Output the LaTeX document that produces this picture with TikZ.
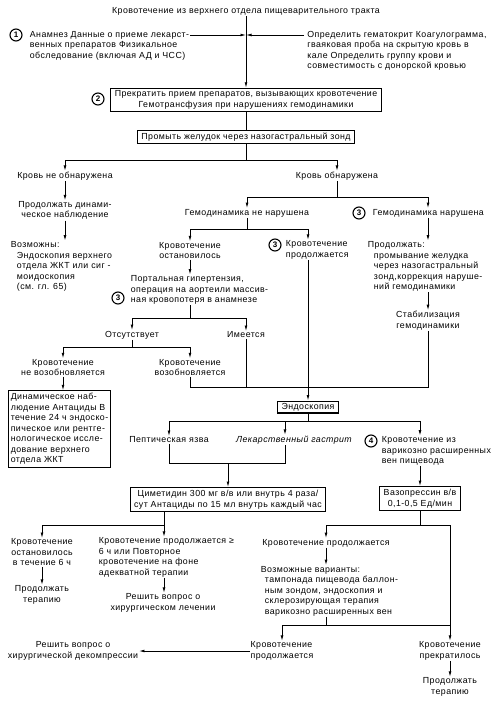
\documentclass[tikz,border=0pt]{standalone}
\usepackage{fontspec}
\setmainfont[LetterSpace=5]{Liberation Sans}
\usetikzlibrary{arrows.meta}
\tikzset{
  arr/.style={-{Latex[length=5.5pt,width=2.8pt]}},
  frame/.style={draw,line width=1.1pt,inner xsep=4pt,inner ysep=2.5pt},
  num/.style={circle,draw,line width=1.1pt,inner sep=0pt,minimum size=12pt,font=\fontsize{8}{8}\selectfont\bfseries},
  lft/.style={align=left,anchor=west},
}
\begin{document}
\begin{tikzpicture}[x=1pt,y=-1pt,line width=0.8pt,font=\fontsize{8.8}{10.5}\selectfont,every node/.append style={align=center,inner sep=0.5pt}]
\useasboundingbox (0,0) rectangle (493,701);
\node (title) at (246,11) {Кровотечение из верхнего отдела пищеварительного тракта};
\node[num] (c1) at (16,35) {1};
\node[lft] (anam) at (29,45.5) {Анамнез Данные о приеме лекарст-\\венных препаратов Физикальное\\обследование (включая АД и ЧСС)};
\node[lft,inner xsep=3pt] (opr) at (304,51) {Определить гематокрит Коагулограмма,\\гваяковая проба на скрытую кровь в\\кале Определить группу крови и\\совместимость с донорской кровью};
\node[num] (c2) at (98,99) {2};
\node[frame] (prekr) at (246,100) {Прекратить прием препаратов, вызывающих кровотечение\\Гемотрансфузия при нарушениях гемодинамики};
\node[frame] (promyt) at (246,137) {Промыть желудок через назогастральный зонд};
\node (krnet) at (65,176) {Кровь не обнаружена};
\node (krda) at (337,176) {Кровь обнаружена};
\node (prodol) at (65,210.5) {Продолжать динами-\\ческое наблюдение};
\node[lft] (vozm) at (10,266.5) {Возможны:\\\hspace*{6pt}Эндоскопия верхнего\\\hspace*{6pt}отдела ЖКТ или сиг -\\\hspace*{6pt}моидоскопия\\\hspace*{6pt}(см. гл. 65)};
\node (gemnn) at (247,213) {Гемодинамика не нарушена};
\node[num] (c3a) at (359,213) {3};
\node[lft] (gemn) at (372,213) {Гемодинамика нарушена};
\node (ostan) at (190,250.5) {Кровотечение\\остановилось};
\node[num] (c3b) at (275,245) {3};
\node[lft] (prodl) at (285,250) {Кровотечение\\продолжается};
\node[lft] (prod2) at (367,266.5) {Продолжать:\\\hspace*{6pt}промывание желудка\\\hspace*{6pt}через назогастральный\\\hspace*{6pt}зонд,коррекция наруше-\\\hspace*{6pt}ний гемодинамики};
\node[num] (c3c) at (118,298) {3};
\node[lft] (por) at (130,290) {Портальная гипертензия,\\операция на аортеили массив-\\ная кровопотеря в анамнезе};
\node (stab) at (428,320.5) {Стабилизация\\гемодинамики};
\node (otsut) at (132,335) {Отсутствует};
\node (imeet) at (246,335) {Имеется};
\node (nevoz) at (63,367.5) {Кровотечение\\не возобновляется};
\node (vozob) at (190,367.5) {Кровотечение\\возобновляется};
\node[frame,align=left,inner xsep=2pt] (dyn) at (59.5,429) {Динамическое наб-\\людение Антациды В\\течение 24 ч эндоско-\\пическое или рентге-\\нологическое иссле-\\дование верхнего\\отдела ЖКТ};
\node[frame,inner ysep=2pt] (endo) at (308,407) {Эндоскопия};
\node (pept) at (169,440) {Пептическая язва};
\node (lek) at (294,440) {\itshape Лекарственный гастрит};
\node[num] (c4) at (371,441) {4};
\node[lft] (varic) at (381,451) {Кровотечение из\\варикозно расширенных\\вен пищевода};
\node[frame] (cim) at (228,499.5) {Циметидин 300 мг в/в или внутрь 4 раза/\\сут Антациды по 15 мл внутрь каждый час};
\node[frame] (vazo) at (420,498.5) {Вазопрессин в/в\\0,1-0,5 Ед/мин};
\node (ost6) at (42,552.5) {Кровотечение\\остановилось\\в течение 6 ч};
\node[lft] (prod6) at (98,557.5) {Кровотечение продолжается ≥\\6 ч или Повторное\\кровотечение на фоне\\адекватной терапии};
\node (kp2) at (326,543) {Кровотечение продолжается};
\node[lft] (vv) at (260,591) {Возможные варианты:\\\hspace*{4pt}тампонада пищевода баллон-\\\hspace*{4pt}ным зондом, эндоскопия и\\\hspace*{4pt}склерозирующая терапия\\\hspace*{4pt}варикозно расширенных вен};
\node (ter1) at (42,595) {Продолжать\\терапию};
\node (hir1) at (163,603) {Решить вопрос о\\хирургическом лечении};
\node (dek) at (73,651) {Решить вопрос о\\хирургической декомпрессии};
\node[align=left] (kp3) at (282,651) {Кровотечение\\продолжается};
\node (kpr) at (450,651) {Кровотечение\\прекратилось};
\node (ter2) at (450,687) {Продолжать\\терапию};
\coordinate (m1) at (246,35);
\coordinate (j1) at (246,160);
\coordinate (j2) at (337,197);
\coordinate (j3) at (247,229);
\coordinate (j3r) at (308,229);
\coordinate (j4) at (190,318);
\coordinate (j5) at (132,347);
\coordinate (j7) at (308,387);
\coordinate (j8) at (308,421);
\coordinate (j8b) at (285,421);
\coordinate (j8c) at (420,421);
\coordinate (j9) at (228,463);
\coordinate (j10) at (164,525);
\coordinate (j11) at (420,525);
\coordinate (j12) at (326,625);
\coordinate (j13) at (450,625);
\draw[arr] (title) -- (prekr);
\draw[arr] (anam.east |- c1) -- (m1);
\draw[arr] (opr.west |- c1) -- (m1);
\draw (prekr) -- (promyt);
\draw (promyt) -- (j1);
\draw[arr] (j1) -| (krnet);
\draw[arr] (j1) -| (krda);
\draw[arr] (krnet) -- (prodol);
\draw[arr] (prodol) -- (prodol |- vozm.north);
\draw (krda) -- (j2);
\draw[arr] (j2) -| (gemnn);
\draw[arr] (j2) -| (stab |- gemn.north);
\draw (gemnn) -- (j3);
\draw[arr] (j3) -| (ostan);
\draw (j3) -- (j3r);
\draw[arr] (j3r) -- (j3r |- prodl.north);
\draw[arr] (stab |- gemn.south) -- (stab |- prod2.north);
\draw[arr] (stab |- prod2.south) -- (stab);
\draw[arr] (ostan) -- (ostan |- por.north);
\draw (ostan |- por.south) -- (j4);
\draw[arr] (j4) -| (otsut);
\draw[arr] (j4) -| (imeet);
\draw (otsut) -- (j5);
\draw[arr] (j5) -| (nevoz);
\draw[arr] (j5) -| (vozob);
\draw[arr] (nevoz.south) -- (nevoz.south |- dyn.north);
\draw (vozob) |- (j7);
\draw (imeet) -- (imeet |- j7);
\draw (j3r |- prodl.south) -- (j7);
\draw (stab) |- (j7);
\draw[arr] (j7) -- (endo);
\draw (endo) -- (j8);
\draw[arr] (j8) -| (pept);
\draw[arr] (j8b) -- (j8b |- lek.north);
\draw (j8) -- (j8c);
\draw[arr] (j8c) -- (j8c |- varic.north);
\draw (pept) |- (j9);
\draw (j8b |- lek.south) |- (j9);
\draw[arr] (j9) -- (cim);
\draw[arr] (j8c |- varic.south) -- (vazo);
\draw (j10 |- cim.south) -- (j10);
\draw[arr] (j10) -| (ost6);
\draw[arr] (j10) -- (j10 |- prod6.north);
\draw[arr] (ost6) -- (ter1);
\draw[arr] (j10 |- prod6.south) -- (j10 |- hir1.north);
\draw (vazo) -- (j11);
\draw[arr] (j11) -| (kp2);
\draw (j11) -| (j13);
\draw[arr] (kp2) -- (kp2 |- vv.north);
\draw (kp2 |- vv.south) -- (j12);
\draw[arr] (j13) -| (kp3);
\draw[arr] (j13) -- (kpr);
\draw[arr] (kpr) -- (ter2);
\draw[arr] (kp3) -- (dek);
\end{tikzpicture}
\end{document}
